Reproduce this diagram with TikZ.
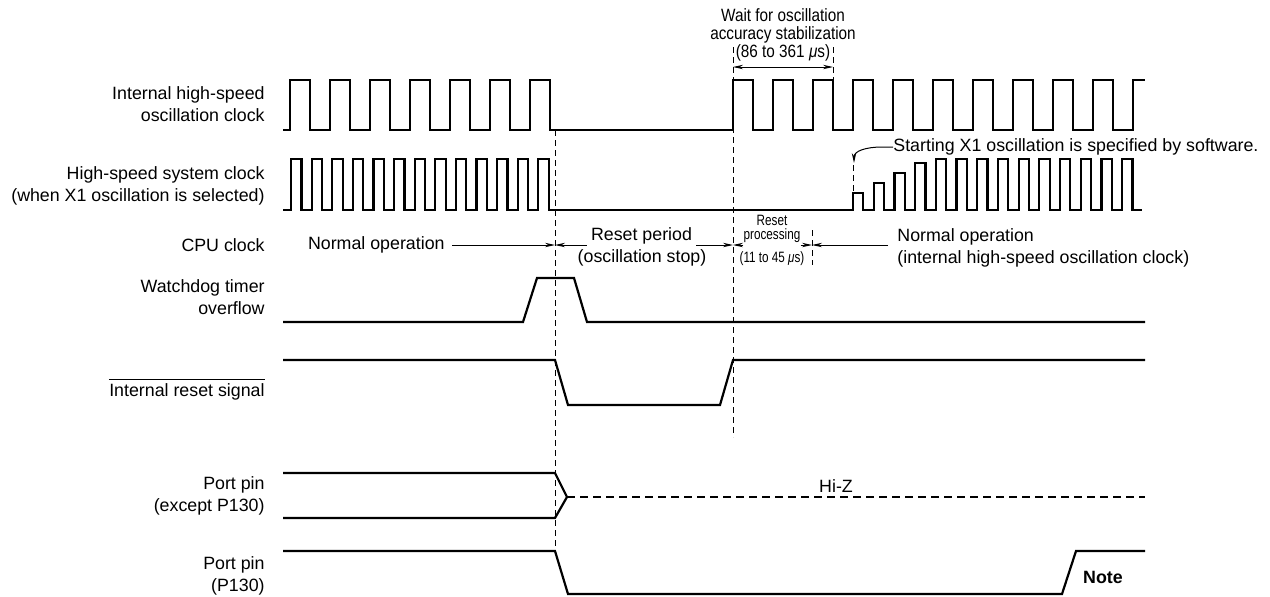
\documentclass[tikz,border=0pt]{standalone}
\usepackage{fontspec}
\setmainfont{Liberation Sans}
\newfontfamily\condfont[FakeStretch=0.86]{Liberation Sans}
\newfontfamily\narrowfont[FakeStretch=0.78]{Liberation Sans}
\usetikzlibrary{arrows.meta,positioning}
\tikzset{
  >={Stealth[length=5pt,width=2.2pt]},
}

\begin{document}
\begin{tikzpicture}[
  x=0.5pt,y=-0.5pt,
  every node/.style={font=\fontsize{8.9}{11}\selectfont,inner sep=0pt},
  sig/.style={line width=1.1pt},
  guide/.style={line width=0.5pt,dash pattern=on 3pt off 2pt},
  hiz/.style={line width=1pt,dash pattern=on 4pt off 2.5pt},
  dim/.style={line width=0.5pt},
  lab/.style={anchor=east,align=right},
  cond/.style={font=\fontsize{8.9}{9}\condfont,align=center},
  tiny/.style={font=\fontsize{7.5}{8}\narrowfont}
]
\useasboundingbox (0,0) rectangle (1270,596);

% signal names
\node[lab] (nIH) at (265,104) {Internal high-speed\\oscillation clock};
\node[lab] (nHS) at (265,186) {High-speed system clock\\(when X1 oscillation is selected)};
\node[lab] (nCPU) at (265,245) {CPU clock};
\node[lab] (nWD) at (265,297.5) {Watchdog timer\\overflow};
\node[lab] (nIR) at (265,392) {Internal reset signal};
\draw[dim] ([yshift=2pt]nIR.north west) -- ([yshift=2pt]nIR.north east);
\node[lab] (nPP) at (265,496) {Port pin\\(except P130)};
\node[lab] (nP130) at (265,576) {Port pin\\(P130)};

% time marks
\draw[guide] (555,130) -- (555,551);
\draw[guide] (733,47) -- (733,437);
\draw[guide] (833,47) -- (833,80);
\draw[guide] (812,230) -- (812,265);
\draw[guide] (853,165) -- (853,192);

% internal high-speed oscillation clock
\draw[sig] (283,130)
  \foreach \x in {290,330,...,530} { -- (\x,130) -- (\x,80) -- (\x+20,80) -- (\x+20,130) }
  \foreach \x in {733,773,...,1093} { -- (\x,130) -- (\x,80) -- (\x+20,80) -- (\x+20,130) }
  -- (1133,130) -- (1133,80) -- (1145,80);

% high-speed system clock
\draw[sig] (283,210)
  \foreach \k [evaluate=\k as \x using 291+20.6*\k] in {0,...,12}
    { -- (\x,210) -- (\x,159) -- (\x+10.5,159) -- (\x+10.5,210) }
  \foreach \k [evaluate=\k as \x using 853+20.7*\k,
               evaluate=\k as \h using {210-min(17+10*\k,51)}] in {0,...,13}
    { -- (\x,210) -- (\x,\h) -- (\x+10.3,\h) -- (\x+10.3,210) }
  -- (1142,210);

% CPU clock
\coordinate (tRst) at (555,245);
\coordinate (tRel) at (733,245);
\coordinate (tPrc) at (812,245);
\node[anchor=east,inner xsep=3.5pt] (nop1) at (452,245) {Normal operation};
\draw[dim,->] (nop1.east) -- (tRst);
\node[inner xsep=2pt] (rper) at (641.5,236) {Reset period};
\node (rstop) at (642,258) {(oscillation stop)};
\draw[dim,->] (rper.west |- tRst) -- (tRst);
\draw[dim,->] (rper.east |- tRst) -- (tRel);
\node[tiny] (rpr1) at (772,220) {Reset};
\node[tiny] (rpr2) at (772,236) {processing};
\node[tiny] (rpr3) at (772,259) {(11 to 45 \textit{μ}s)};
\draw[dim,->] (rpr2.west |- tRel) -- (tRel);
\draw[dim,->] (rpr2.east |- tPrc) -- (tPrc);
\node[anchor=west,inner xsep=4.5pt] (nop2) at (888,237) {Normal operation};
\node[anchor=west] (nop2b) at (897,259) {(internal high-speed oscillation clock)};
\draw[dim,->] (nop2.west |- tPrc) -- (tPrc);

% oscillation accuracy wait
\node[cond] (wait) at (783,35) {Wait for oscillation\\accuracy stabilization\\(86 to 361 \textit{μ}s)};
\coordinate (wL) at (733,67);
\coordinate (wR) at (833,67);
\draw[dim,<->] (wL) -- (wR);

% X1 start
\node[anchor=west] (xsw) at (893,147) {Starting X1 oscillation is specified by software.};
\draw[dim,->] (xsw.west) -- (882,147) .. controls (866,147) and (854,151) .. (854,163);

% watchdog timer overflow
\draw[sig] (283,322) -- (523,322) -- (537,278) -- (574,278) -- (587,322) -- (1145,322);

% internal reset signal
\draw[sig] (283,360) -- (555,360) -- (568,405) -- (720,405) -- (733,360) -- (1145,360);

% port pins
\draw[sig] (283,473) -- (555,473) -- (567,497) -- (555,518) -- (283,518);
\draw[hiz] (567,497) -- (1145,497);
\node (hiz) at (836,486) {Hi-Z};
\draw[sig] (283,551) -- (555,551) -- (568,594) -- (1062,594) -- (1076,551) -- (1145,551);
\node[font=\fontsize{8.9}{11}\selectfont\bfseries] (note) at (1103,577) {Note};

\end{tikzpicture}
\end{document}
